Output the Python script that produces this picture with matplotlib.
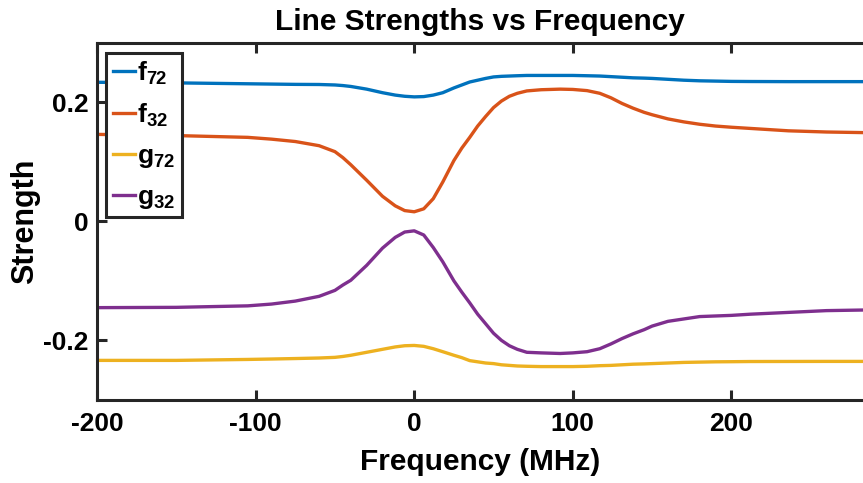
import numpy as np
import matplotlib
matplotlib.use("Agg")
import matplotlib.pyplot as plt

# ===========================================
# values

freq = [-200, -150, -105, -90, -75, -60, -50, -45, -40, -30, -20, -12, -6, 0,
        6, 12, 18, 25, 30, 35, 40, 45, 50, 55, 60, 65, 71, 80, 92, 100, 109,
        117, 124, 131, 138, 145, 150, 160, 170, 180, 190, 200, 212, 236, 260,
        283]

f72 = [0.2335, 0.2325, 0.231, 0.2305, 0.230, 0.2298, 0.229, 0.228, 0.2265,
       0.222, 0.216, 0.212, 0.210, 0.209, 0.2095, 0.212, 0.216, 0.224, 0.229,
       0.234, 0.237, 0.240, 0.2425, 0.2435, 0.244, 0.2445, 0.245, 0.245, 0.245,
       0.245, 0.2445, 0.244, 0.243, 0.242, 0.241, 0.2405, 0.240, 0.2385, 0.237,
       0.236, 0.2355, 0.235, 0.2348, 0.2346, 0.2346, 0.2346]

f32 = [0.146, 0.144, 0.141, 0.138, 0.134, 0.127, 0.117, 0.107, 0.095, 0.069,
       0.042, 0.026, 0.018, 0.016, 0.021, 0.038, 0.066, 0.102, 0.123, 0.141,
       0.160, 0.176, 0.191, 0.202, 0.210, 0.215, 0.219, 0.221, 0.222, 0.2215,
       0.2195, 0.215, 0.2075, 0.198, 0.190, 0.183, 0.179, 0.172, 0.167, 0.163,
       0.160, 0.158, 0.156, 0.152, 0.150, 0.149]

g72 = [-0.2336, -0.2336, -0.232, -0.2313, -0.2305, -0.2296, -0.2285, -0.227,
       -0.225, -0.220, -0.215, -0.211, -0.209, -0.2085, -0.210, -0.214, -0.219,
       -0.225, -0.229, -0.234, -0.236, -0.238, -0.239, -0.241, -0.242, -0.243,
       -0.2435, -0.244, -0.244, -0.244, -0.2435, -0.2425, -0.242, -0.241,
       -0.240, -0.2395, -0.239, -0.238, -0.237, -0.2365, -0.236, -0.2358,
       -0.2355, -0.2354, -0.2353, -0.2353]

g32 = [-0.145, -0.1445, -0.142, -0.139, -0.134, -0.126, -0.116, -0.107, -0.099,
       -0.074, -0.045, -0.027, -0.018, -0.016, -0.023, -0.044, -0.068, -0.100,
       -0.119, -0.137, -0.156, -0.172, -0.188, -0.200, -0.209, -0.215, -0.220,
       -0.221, -0.222, -0.221, -0.219, -0.214, -0.206, -0.197, -0.189, -0.182,
       -0.176, -0.168, -0.164, -0.160, -0.159, -0.158, -0.156, -0.153, -0.150,
       -0.149]

series = [f72, f32, g72, g32]
labels = [r'$\mathbf{f}_{\mathbf{72}}$', r'$\mathbf{f}_{\mathbf{32}}$',
          r'$\mathbf{g}_{\mathbf{72}}$', r'$\mathbf{g}_{\mathbf{32}}$']
colors = ['#0072BD', '#D95319', '#EDB120', '#7E2F8E']

xticks = [-200, -100, 0, 100, 200]
yticks = [-0.2, 0, 0.2]
yticklabels = ['-0.2', '0', '0.2']

# ===========================================

plt.rcParams['font.family'] = ['Liberation Sans', 'DejaVu Sans']
plt.rcParams['font.weight'] = 'bold'
plt.rcParams['mathtext.fontset'] = 'custom'
plt.rcParams['mathtext.rm'] = 'Liberation Sans'
plt.rcParams['mathtext.bf'] = 'Liberation Sans:bold'

dark = '#262626'

fig = plt.figure(figsize=(8.63, 4.83), dpi=100)
ax = fig.add_axes([0.1125, 0.172, 1 - 0.1125, 0.7396])

for y, lab, c in zip(series, labels, colors):
    ax.plot(freq, y, color=c, lw=2.4, label=lab, solid_joinstyle='round')

ax.set_xlim(-200, 283)
ax.set_ylim(-0.3, 0.3)
ax.set_xticks(xticks)
ax.set_xticklabels([str(t) for t in xticks])
ax.set_yticks(yticks)
ax.set_yticklabels(yticklabels)

for s in ['left', 'bottom', 'top']:
    ax.spines[s].set_color(dark)
    ax.spines[s].set_linewidth(2.2)
ax.spines['right'].set_visible(False)
ax.tick_params(direction='in', length=7, width=2.2, color=dark, top=True,
               labelsize=19, labelcolor='black')
ax.tick_params(axis='x', pad=9)
ax.tick_params(axis='y', pad=6)

ax.set_title('Line Strengths vs Frequency', fontsize=21.5, fontweight='bold', pad=9)
ax.set_xlabel('Frequency (MHz)', fontsize=21.5, fontweight='bold', labelpad=8)
ax.set_ylabel('Strength', fontsize=22, fontweight='bold', labelpad=2)

leg = ax.legend(loc='upper left', bbox_to_anchor=(0.012, 0.972), fontsize=19,
                handlelength=0.84, handletextpad=0.1, borderpad=0.24,
                labelspacing=0.57, fancybox=False, framealpha=1,
                borderaxespad=0)
leg.get_frame().set_edgecolor(dark)
leg.get_frame().set_linewidth(2.2)

plt.savefig('out.png', dpi=100)
